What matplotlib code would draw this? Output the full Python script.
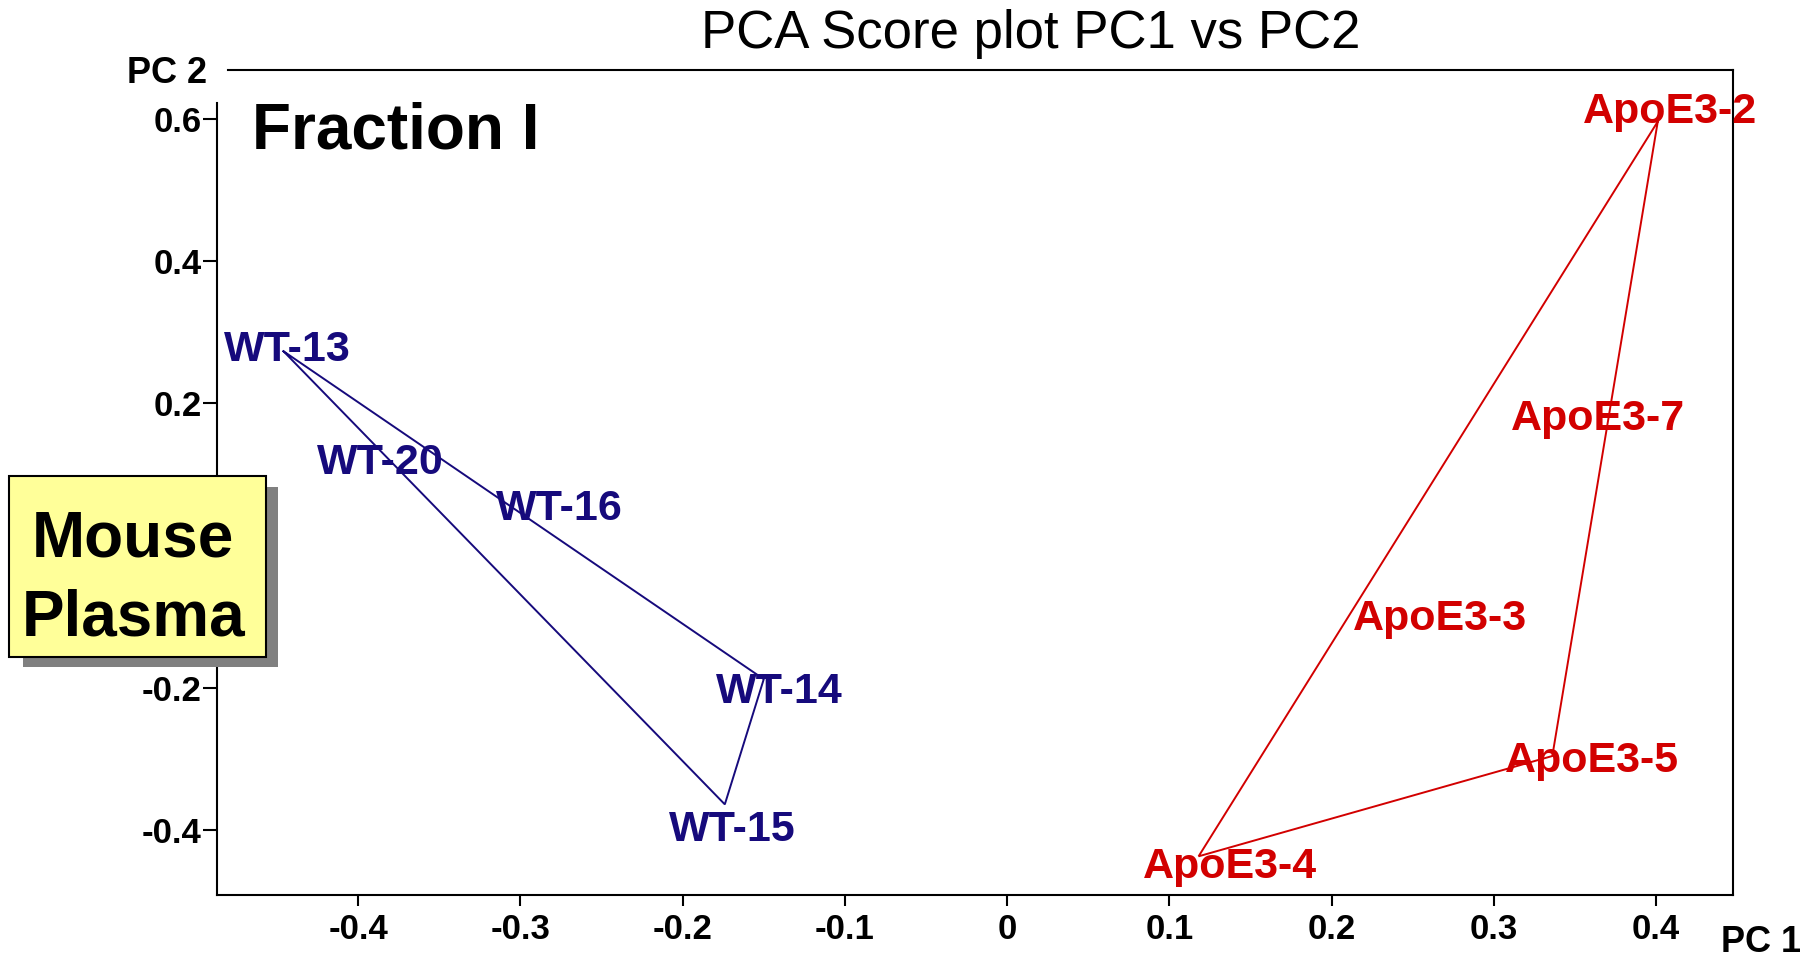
import matplotlib
matplotlib.use('Agg')
import matplotlib.pyplot as plt
from matplotlib.patches import Rectangle

plt.rcParams['font.family'] = ['Liberation Sans', 'DejaVu Sans']
plt.rcParams['axes.unicode_minus'] = False

# PCA scores, wild type
wt_names = ['WT-13', 'WT-20', 'WT-16', 'WT-14', 'WT-15']
wt_pc1 = [-0.446, -0.360, -0.290, -0.150, -0.174]
wt_pc2 = [0.273, 0.110, 0.000, -0.188, -0.364]
wt_hull = [0, 3, 4]

# PCA scores, ApoE3
apo_names = ['ApoE3-2', 'ApoE3-7', 'ApoE3-3', 'ApoE3-5', 'ApoE3-4']
apo_pc1 = [0.401, 0.340, 0.245, 0.336, 0.118]
apo_pc2 = [0.596, 0.180, -0.100, -0.296, -0.437]
apo_hull = [0, 3, 4]

x_ticks = [-0.4, -0.3, -0.2, -0.1, 0, 0.1, 0.2, 0.3, 0.4]
x_ticklabels = ['-0.4', '-0.3', '-0.2', '-0.1', '0', '0.1', '0.2', '0.3', '0.4']
# the 0 label sits under the Mouse Plasma box, so it stays blank
y_ticks = [-0.4, -0.2, 0, 0.2, 0.4, 0.6]
y_ticklabels = ['-0.4', '-0.2', '', '0.2', '0.4', '0.6']

# label placement (pixels: left edge, baseline below the point) so names don't collide
wt_offsets = [(-60, 10), (-106, 7), (-41, -25), (-48, 24), (-56, 37)]
apo_offsets = [(-75, 2), (-48, 13), (-52, 13), (-47, 16), (-56, 22)]

navy = '#160a7c'
red = '#d20000'

fig = plt.figure(figsize=(18.14, 9.6), dpi=100)
ax = fig.add_axes([0.1196, 0.0680, 0.8357, 0.8588])


def draw_group(names, pc1, pc2, hull, offsets, color):
    hx = [pc1[i] for i in hull] + [pc1[hull[0]]]
    hy = [pc2[i] for i in hull] + [pc2[hull[0]]]
    ax.plot(hx, hy, color=color, lw=1.4, solid_joinstyle='miter')
    for name, x, y, (dx, dy) in zip(names, pc1, pc2, offsets):
        ax.annotate(name, (x, y), xytext=(dx, -dy), textcoords='offset pixels',
                    ha='left', va='baseline', fontsize=31, fontweight='bold',
                    color=color)


draw_group(wt_names, wt_pc1, wt_pc2, wt_hull, wt_offsets, navy)
draw_group(apo_names, apo_pc1, apo_pc2, apo_hull, apo_offsets, red)

ax.set_xlim(-0.487, 0.4473)
ax.set_ylim(-0.491, 0.668)
ax.set_xticks(x_ticks)
ax.set_xticklabels(x_ticklabels)
ax.set_yticks(y_ticks)
ax.set_yticklabels(y_ticklabels)
ax.tick_params(axis='x', length=8, width=1.5, pad=5, labelsize=25)
ax.tick_params(axis='y', length=10, width=1.5, pad=1, labelsize=25)
for lab in ax.get_xticklabels() + ax.get_yticklabels():
    lab.set_fontweight('bold')

for sp in ax.spines.values():
    sp.set_linewidth(1.5)
    sp.set_color('black')
# open corner at top-left for the PC 2 label
ax.spines['left'].set_bounds(-0.491, 0.622)
ax.spines['top'].set_bounds(-0.480, 0.4473)

fig.text(0.568, 0.9497, 'PCA Score plot PC1 vs PC2', ha='center', va='baseline',
         fontsize=38)
fig.text(0.070, 0.9132, 'PC 2', ha='left', va='baseline', fontsize=26,
         fontweight='bold')
fig.text(0.9490, 0.008, 'PC 1', ha='left', va='baseline', fontsize=26,
         fontweight='bold')
fig.text(0.1390, 0.8448, 'Fraction I', ha='left', va='baseline', fontsize=46,
         fontweight='bold')

# yellow "Mouse Plasma" box with drop shadow
fig.add_artist(Rectangle((0.01268, 0.3055), 0.1406, 0.1875,
                         transform=fig.transFigure, facecolor='#808080',
                         edgecolor='none', zorder=5))
fig.add_artist(Rectangle((0.00496, 0.3159), 0.1415, 0.1885,
                         transform=fig.transFigure, facecolor='#ffff99',
                         edgecolor='black', lw=1.5, zorder=6))
fig.text(0.0735, 0.4201, 'Mouse', ha='center', va='baseline', fontsize=46,
         fontweight='bold', zorder=7)
fig.text(0.0735, 0.3385, 'Plasma', ha='center', va='baseline', fontsize=46,
         fontweight='bold', zorder=7)

fig.savefig('out.png', dpi=100)
